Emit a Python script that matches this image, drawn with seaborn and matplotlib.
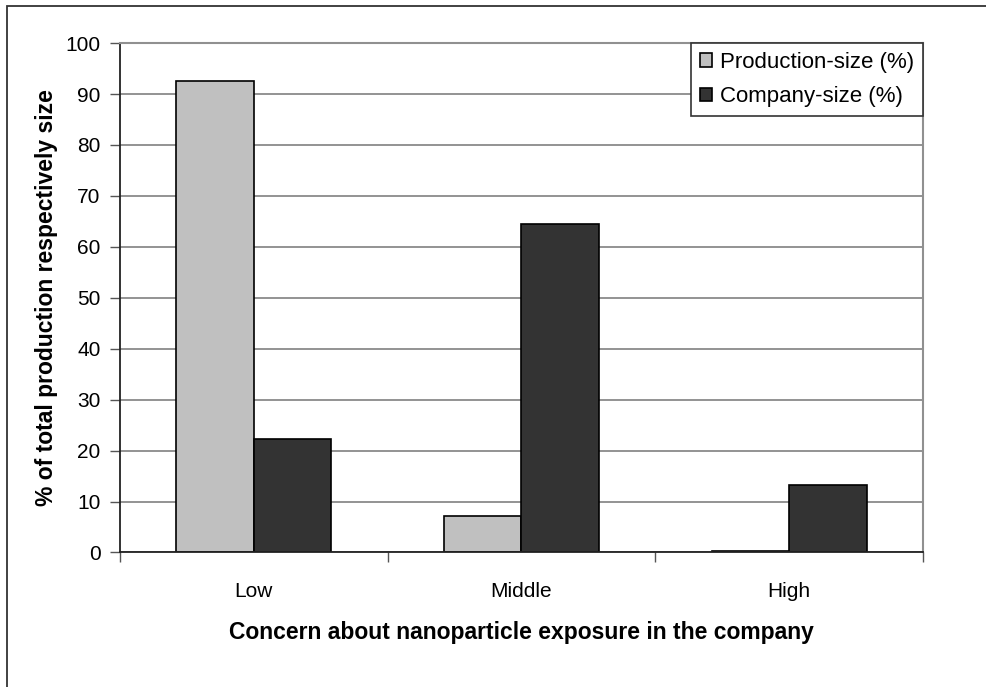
import pandas as pd
import seaborn as sns
import matplotlib.pyplot as plt
from matplotlib.patches import Rectangle

# Data
concern = ['Low', 'Middle', 'High']
production_size = [92.6, 7.2, 0.3]
company_size = [22.3, 64.4, 13.3]

df = pd.DataFrame({
    'concern': concern * 2,
    'value': production_size + company_size,
    'series': ['Production-size (%)'] * 3 + ['Company-size (%)'] * 3,
})

sns.set_theme(style='white')
plt.rcParams['font.family'] = ['Liberation Sans', 'DejaVu Sans']

fig = plt.figure(figsize=(9.86, 6.87), dpi=100)
ax = fig.add_axes([0.1217, 0.1958, 0.8144, 0.7415])

sns.barplot(data=df, x='concern', y='value', hue='series', order=concern,
            palette=['#c0c0c0', '#333333'], width=0.58, ax=ax,
            edgecolor='black', linewidth=1.2, saturation=1, errorbar=None)

ax.set_ylim(0, 100)
ax.set_xlim(-0.5, 2.5)
ax.set_yticks(range(0, 101, 10))
ax.yaxis.grid(True, color='#808080', linewidth=1.2)
ax.set_axisbelow(True)

# x ticks sit between the categories
ax.set_xticks([0, 1, 2])
ax.set_xticks([-0.5, 0.5, 1.5, 2.5], minor=True)
ax.tick_params(axis='x', which='major', length=0, pad=21, labelsize=15, colors='black')
ax.tick_params(axis='x', which='minor', length=7, width=1, color='#555555', direction='out', bottom=True)
ax.tick_params(axis='y', length=7, width=1, color='#555555', direction='out', left=True,
               pad=7, labelsize=15, labelcolor='black')

for side in ['left', 'bottom']:
    ax.spines[side].set_color('#222222')
    ax.spines[side].set_linewidth(1.3)
for side in ['top', 'right']:
    ax.spines[side].set_color('#909090')
    ax.spines[side].set_linewidth(1.5)

ax.set_xlabel('Concern about nanoparticle exposure in the company',
              fontsize=16.5, fontweight='bold', labelpad=15, color='black')
ax.set_ylabel('% of total production respectively size',
              fontsize=16.5, fontweight='bold', labelpad=5, color='black')

leg = ax.legend(loc='upper right', borderaxespad=0, fontsize=16, frameon=True,
                fancybox=False, edgecolor='#333333', handlelength=0.55,
                handleheight=0.55, handletextpad=0.35, borderpad=0.4,
                labelspacing=0.6)
leg.get_frame().set_linewidth(1.2)
leg.get_frame().set_alpha(1)
for t in leg.get_texts():
    t.set_color('black')

# outer chart frame
fig.patches.append(Rectangle((7 / 986, -0.1), 1.2, 1 - 6 / 687 + 0.1,
                             transform=fig.transFigure, fill=False,
                             edgecolor='#333333', linewidth=1.3))

fig.savefig('out.png', dpi=100)
